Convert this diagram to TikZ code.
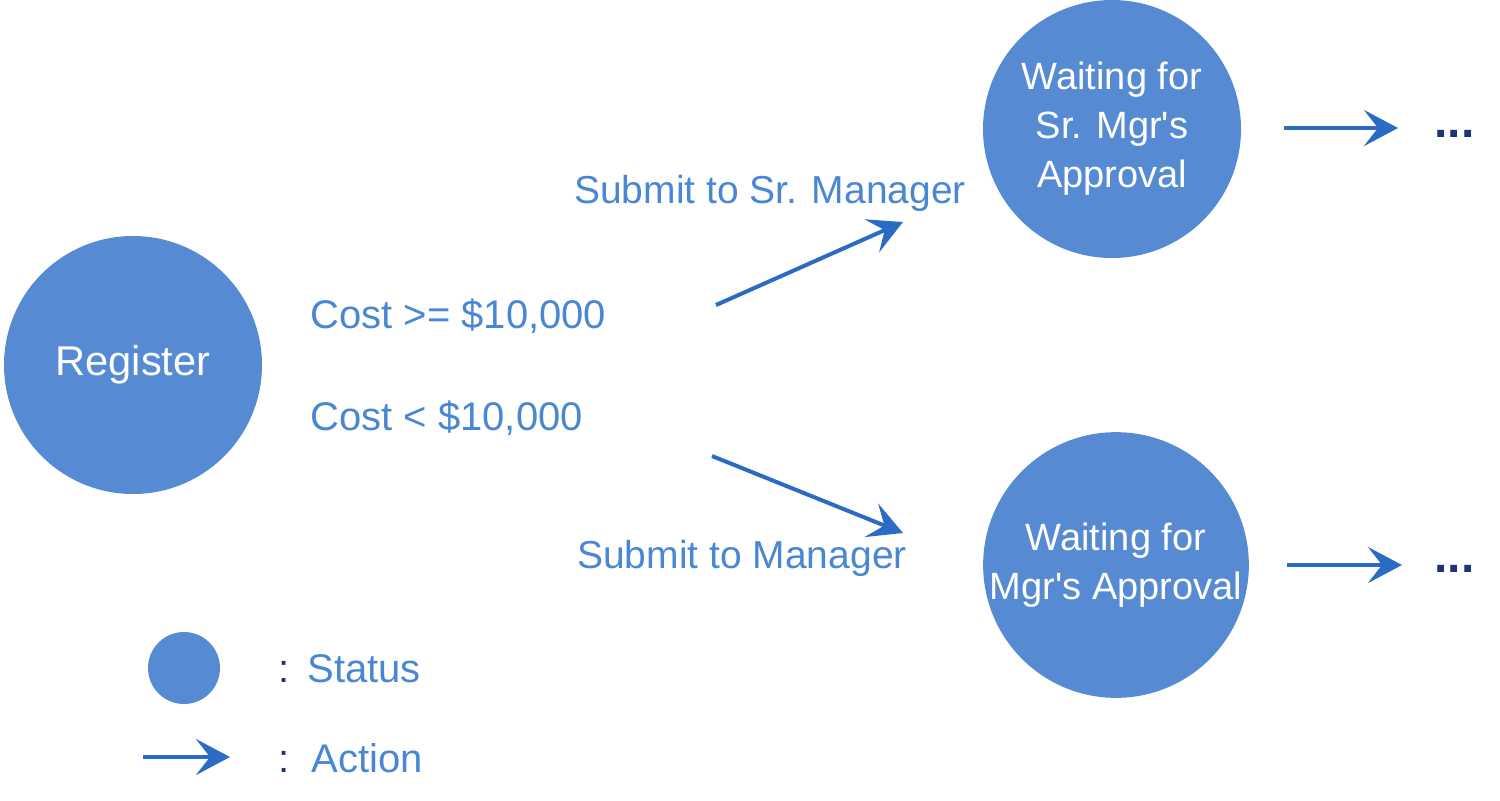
\documentclass[tikz,border=0pt]{standalone}
\usepackage{fontspec}
\setmainfont{Liberation Sans}
\usetikzlibrary{arrows.meta}
\definecolor{statefill}{RGB}{86,139,212}
\definecolor{labelblue}{RGB}{74,135,210}
\definecolor{arrowblue}{RGB}{42,107,198}
\definecolor{dotnavy}{RGB}{30,52,120}
\tikzset{
  status/.style={circle, fill=statefill, draw=none, text=white, align=center,
    inner sep=0pt, minimum size=129pt, font=\fontsize{19}{24.5}\selectfont},
  lbl/.style={text=labelblue, font=\fontsize{19.5}{24}\selectfont, inner sep=0pt},
  action/.style={draw=arrowblue, line width=2pt,
    -{Stealth[length=17pt, width=18pt, inset=7pt]}},
  dots/.style={text=dotnavy, font=\fontsize{24}{24}\bfseries\selectfont, inner sep=0pt},
  colonmark/.style={text=dotnavy, font=\fontsize{20}{20}\selectfont, inner sep=0pt}
}
\begin{document}
\begin{tikzpicture}[x=0.5pt,y=-0.5pt]
\useasboundingbox (0,0) rectangle (1500,800);
% status circles
\node[status, font=\fontsize{20.8}{24.5}\selectfont] (reg) at (133,365) {Register};
\node[status] (srmgr) at (1112,129) {Waiting for\\Sr. Mgr\textquotesingle s\\Approval};
\node[status] (mgr) at (1116,565) {Waiting for\\Mgr\textquotesingle s Approval};
% condition labels
\node[lbl, font=\fontsize{20}{24}\selectfont, anchor=base west] (c1) at (310,328) {Cost >= \$10,000};
\node[lbl, font=\fontsize{20}{24}\selectfont, anchor=base west] (c2) at (310,430) {Cost < \$10,000};
\node[lbl, anchor=base] (a1) at (770,203) {Submit to Sr. Manager};
\node[lbl, anchor=base] (a2) at (742,568) {Submit to Manager};
% action arrows
\coordinate (u0) at (716,305);
\coordinate (u1) at (903,222);
\coordinate (l0) at (712,456);
\coordinate (l1) at (903,533);
\draw[action] (u0) -- (u1);
\draw[action] (l0) -- (l1);
\coordinate (r0) at (1284,128);
\coordinate (r1) at (1398,128);
\coordinate (s0) at (1287,565);
\coordinate (s1) at (1402,565);
\draw[action] (r0) -- (r1);
\draw[action] (s0) -- (s1);
\node[dots, anchor=base west] (d1) at (1434,137) {...};
\node[dots, anchor=base west] (d2) at (1434,572) {...};
% legend
\node[circle, fill=statefill, minimum size=36pt, inner sep=0pt] (legc) at (184,668) {};
\coordinate (la0) at (143,757);
\coordinate (la1) at (230,757);
\draw[action] (la0) -- (la1);
\node[colonmark, anchor=base] (k1) at (284,682) {:};
\node[colonmark, anchor=base] (k2) at (284,772) {:};
\node[lbl, font=\fontsize{20}{24}\selectfont, anchor=base west] (t1) at (307,682) {Status};
\node[lbl, font=\fontsize{20}{24}\selectfont, anchor=base west] (t2) at (311,772) {Action};
\end{tikzpicture}
\end{document}
